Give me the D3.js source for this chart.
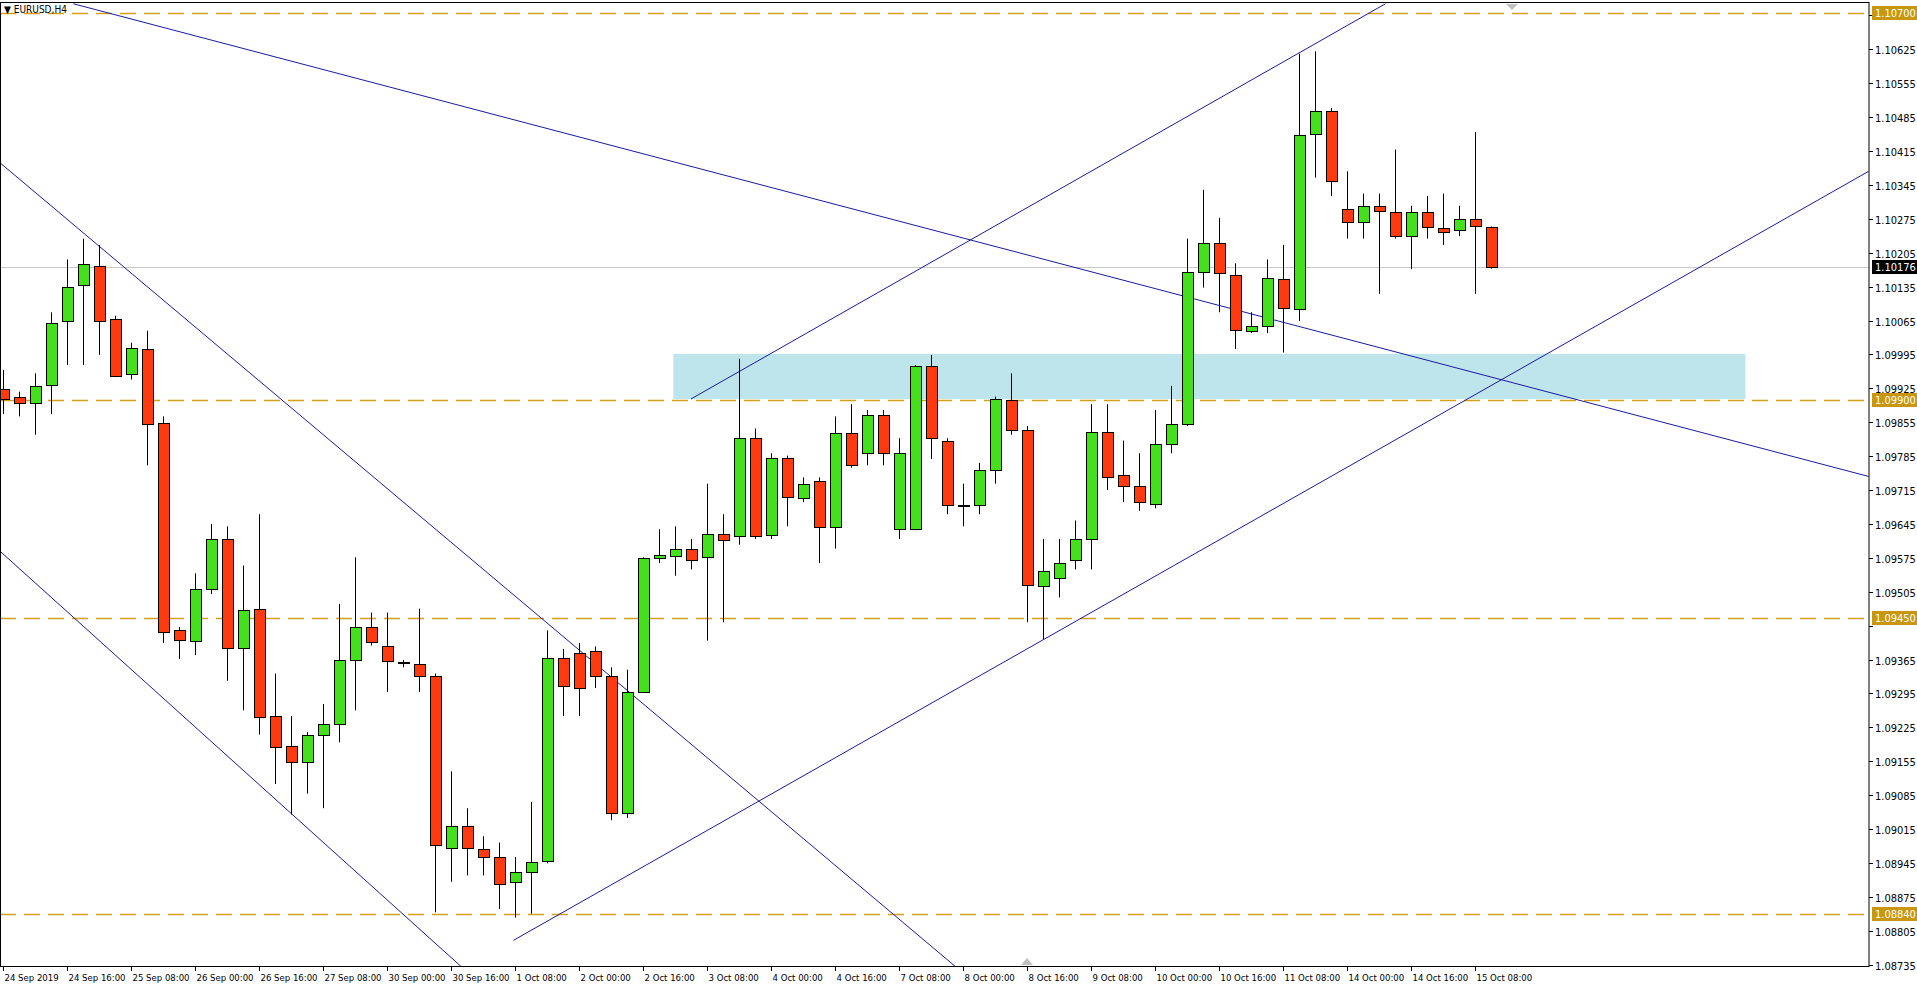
<!DOCTYPE html>
<html><head><meta charset="utf-8">
<script src="https://cdn.jsdelivr.net/npm/d3@7"></script>
<style>body{margin:0;background:#fff;}svg{display:block;}</style>
</head><body>
<script>
const open  = [1.09923,1.09908,1.09895,1.09930,1.10064,1.10138,1.10178,1.10069,1.09956,1.10006,1.09854,1.09425,1.09404,1.09511,1.09614,1.09389,1.09470,1.09248,1.09187,1.09154,1.09210,1.09232,1.09364,1.09432,1.09392,1.09359,1.09356,1.09331,1.08977,1.09022,1.08974,1.08957,1.08906,1.08926,1.08949,1.09369,1.09379,1.09382,1.09331,1.09048,1.09298,1.09574,1.09579,1.09594,1.09576,1.09624,1.09619,1.09822,1.09622,1.09781,1.09700,1.09733,1.09637,1.09832,1.09791,1.09870,1.09634,1.09634,1.09971,1.09817,1.09685,1.09683,1.09756,1.09900,1.09839,1.09518,1.09533,1.09571,1.09614,1.09834,1.09746,1.09723,1.09688,1.09811,1.09852,1.10166,1.10224,1.10158,1.10044,1.10054,1.10150,1.10090,1.10449,1.10497,1.10295,1.10269,1.10302,1.10289,1.10239,1.10289,1.10257,1.10252,1.10274,1.10259];
const high  = [1.09963,1.09918,1.09956,1.10082,1.10191,1.10234,1.10221,1.10075,1.10019,1.10044,1.09867,1.09432,1.09543,1.09645,1.09640,1.09559,1.09665,1.09336,1.09248,1.09215,1.09273,1.09480,1.09576,1.09462,1.09462,1.09364,1.09470,1.09336,1.09134,1.09058,1.09000,1.08987,1.08957,1.09071,1.09425,1.09387,1.09399,1.09392,1.09349,1.09344,1.09576,1.09634,1.09640,1.09614,1.09728,1.09665,1.09986,1.09842,1.09791,1.09786,1.09741,1.09741,1.09867,1.09892,1.09880,1.09880,1.09822,1.09973,1.09994,1.09822,1.09728,1.09771,1.09908,1.09956,1.09847,1.09614,1.09614,1.09652,1.09892,1.09892,1.09817,1.09791,1.09880,1.09930,1.10234,1.10335,1.10277,1.10183,1.10082,1.10191,1.10221,1.10616,1.10621,1.10504,1.10373,1.10327,1.10327,1.10418,1.10302,1.10322,1.10327,1.10302,1.10454,1.10259];
const low   = [1.09872,1.09867,1.09829,1.09872,1.09973,1.09973,1.09994,1.09948,1.09943,1.09766,1.09399,1.09366,1.09374,1.09500,1.09321,1.09260,1.09210,1.09108,1.09045,1.09088,1.09058,1.09194,1.09260,1.09394,1.09298,1.09349,1.09298,1.08843,1.08906,1.08919,1.08919,1.08850,1.08832,1.08840,1.08944,1.09248,1.09248,1.09306,1.09033,1.09038,1.09298,1.09564,1.09538,1.09551,1.09404,1.09442,1.09602,1.09614,1.09614,1.09640,1.09690,1.09564,1.09594,1.09761,1.09766,1.09766,1.09614,1.09632,1.09779,1.09665,1.09640,1.09665,1.09728,1.09829,1.09442,1.09407,1.09493,1.09551,1.09551,1.09715,1.09690,1.09672,1.09677,1.09791,1.09847,1.10133,1.10082,1.10006,1.10039,1.10039,1.09999,1.10064,1.10360,1.10322,1.10234,1.10234,1.10120,1.10234,1.10171,1.10234,1.10221,1.10239,1.10120,1.10172];
const close = [1.09903,1.09895,1.09930,1.10059,1.10135,1.10181,1.10064,1.09951,1.10009,1.09852,1.09422,1.09404,1.09511,1.09614,1.09389,1.09468,1.09248,1.09184,1.09154,1.09210,1.09232,1.09364,1.09432,1.09402,1.09361,1.09359,1.09331,1.08982,1.09022,1.08977,1.08957,1.08901,1.08926,1.08947,1.09369,1.09311,1.09306,1.09331,1.09048,1.09298,1.09574,1.09581,1.09594,1.09571,1.09624,1.09612,1.09822,1.09619,1.09781,1.09700,1.09728,1.09637,1.09832,1.09766,1.09870,1.09791,1.09791,1.09971,1.09822,1.09685,1.09683,1.09756,1.09903,1.09839,1.09518,1.09548,1.09564,1.09614,1.09834,1.09741,1.09723,1.09690,1.09811,1.09852,1.10166,1.10226,1.10163,1.10044,1.10054,1.10153,1.10090,1.10449,1.10497,1.10353,1.10269,1.10302,1.10292,1.10239,1.10289,1.10259,1.10249,1.10274,1.10259,1.10176];
const xLabels = ["24 Sep 2019","24 Sep 16:00","25 Sep 08:00","26 Sep 00:00","26 Sep 16:00","27 Sep 08:00","30 Sep 00:00","30 Sep 16:00","1 Oct 08:00","2 Oct 00:00","2 Oct 16:00","3 Oct 08:00","4 Oct 00:00","4 Oct 16:00","7 Oct 08:00","8 Oct 00:00","8 Oct 16:00","9 Oct 08:00","10 Oct 00:00","10 Oct 16:00","11 Oct 08:00","14 Oct 00:00","14 Oct 16:00","15 Oct 08:00"];
const yTicks = [1.10695,1.10625,1.10555,1.10485,1.10415,1.10345,1.10275,1.10205,1.10135,1.10065,1.09995,1.09925,1.09855,1.09785,1.09715,1.09645,1.09575,1.09505,1.09435,1.09365,1.09295,1.09225,1.09155,1.09085,1.09015,1.08945,1.08875,1.08805,1.08735];
const levels = [1.10700,1.09900,1.09450,1.08840];
const lastPrice = 1.10176;
const trendLines = [
  [-0.2,1.09589,28.7,1.08729],
  [-0.2,1.10391,59.6,1.08729],
  [4.4,1.10719,116.6,1.09743],
  [43.0,1.09903,86.4,1.10719],
  [31.9,1.08785,116.6,1.10373]
];
const zone = [41.9,108.9,1.09996,1.09903];

const W=1917,H=986, L=0, R=1869, T=2, B=966;
const svg=d3.select("body").append("svg").attr("width",W).attr("height",H);
const x=d3.scaleLinear().domain([0,116.625]).range([3,1869]);
const y=d3.scaleLinear().domain([1.10625,1.09925]).range([49.3,388.3]);
svg.append("defs").append("clipPath").attr("id","clip").append("rect").attr("x",L).attr("y",T).attr("width",R-L).attr("height",B-T);
const g=svg.append("g").attr("clip-path","url(#clip)");
g.append("rect").attr("x",x(zone[0])).attr("width",x(zone[1])-x(zone[0])).attr("y",y(zone[2])).attr("height",y(zone[3])-y(zone[2])).attr("fill","#bde5eb");
g.append("line").attr("x1",L).attr("x2",R).attr("y1",Math.round(y(lastPrice))+0.5).attr("y2",Math.round(y(lastPrice))+0.5).attr("stroke","#c8c8c8");
levels.forEach(v=>g.append("line").attr("x1",L).attr("x2",R).attr("y1",Math.round(y(v))+0.5).attr("y2",Math.round(y(v))+0.5).attr("stroke","#d4a017").attr("stroke-width",1.3).attr("stroke-dasharray","16,8"));
trendLines.forEach(t=>g.append("line").attr("x1",x(t[0])).attr("y1",y(t[1])).attr("x2",x(t[2])).attr("y2",y(t[3])).attr("stroke","#1a1aa0").attr("stroke-width",1));
const idx=d3.range(open.length);
g.selectAll(".wick").data(idx).join("line").attr("x1",i=>Math.round(x(i))+0.5).attr("x2",i=>Math.round(x(i))+0.5).attr("y1",i=>y(high[i])).attr("y2",i=>y(low[i])).attr("stroke","#000");
g.selectAll(".body").data(idx).join("rect")
 .attr("x",i=>Math.round(x(i))-5+0.5).attr("width",11)
 .attr("y",i=>Math.round(y(Math.max(open[i],close[i])))+0.5)
 .attr("height",i=>Math.max(1,Math.round(Math.abs(y(open[i])-y(close[i])))))
 .attr("fill",i=>close[i]>=open[i]?"#44e01b":"#ff3a0f").attr("stroke","#000");
svg.append("rect").attr("x",0.5).attr("y",T+0.5).attr("width",R-0.5).attr("height",B-T).attr("fill","none").attr("stroke","#000");
const font="'DejaVu Sans Condensed','DejaVu Sans',sans-serif";
yTicks.forEach(v=>{const yy=Math.round(y(v))+0.5;
  svg.append("line").attr("x1",R).attr("x2",R+4).attr("y1",yy).attr("y2",yy).attr("stroke","#000");
  if(Math.abs(v-1.09435)>1e-9 && Math.abs(v-1.10695)>1e-9)
    svg.append("text").attr("x",R+6).attr("y",yy+4).attr("font-family",font).attr("font-size",11).text(v.toFixed(5));});
function tag(v,bg){const yy=Math.round(y(v));
  svg.append("rect").attr("x",R+3).attr("y",yy-7).attr("width",45).attr("height",14).attr("fill",bg);
  svg.append("text").attr("x",R+6).attr("y",yy+4).attr("font-family",font).attr("font-size",11).attr("fill","#fff").text(v.toFixed(5));}
levels.forEach(v=>tag(v,"#c8960f"));
tag(lastPrice,"#000");
xLabels.forEach((s,k)=>{const xx=Math.round(x(k*4))+0.5;
  svg.append("line").attr("x1",xx).attr("x2",xx).attr("y1",B).attr("y2",B+5).attr("stroke","#000");
  svg.append("text").attr("x",xx+1).attr("y",B+15).attr("font-family",font).attr("font-size",9.5).text(s);});
svg.append("text").attr("x",4).attr("y",13).attr("font-family",font).attr("font-size",10).text("▼ EURUSD,H4");
svg.append("path").attr("d",`M${1506},4 l12,0 l-6,6 z`).attr("fill","#c0c0c0");
svg.append("path").attr("d",`M${x(64)},${B-1} l-6,0 l6,-7 l6,7 z`).attr("fill","#c0c0c0");
</script>
</body></html>
